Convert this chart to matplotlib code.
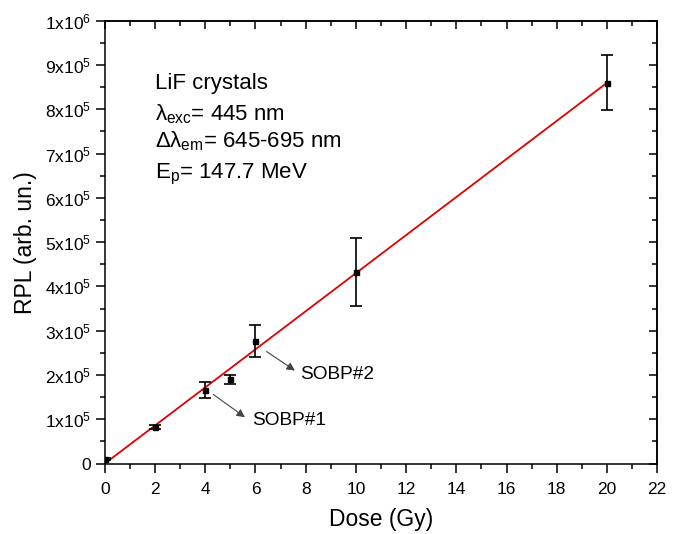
import matplotlib
matplotlib.use("Agg")
import matplotlib.pyplot as plt
from matplotlib.ticker import MultipleLocator, FixedLocator

plt.rcParams['font.family'] = ['Liberation Sans', 'DejaVu Sans']
plt.rcParams['mathtext.fontset'] = 'custom'
plt.rcParams['mathtext.rm'] = 'Liberation Sans'
plt.rcParams['mathtext.it'] = 'Liberation Sans'

# measured points
dose = [0, 2, 4, 5, 6, 10, 20]
rpl = [1.0e4, 8.2e4, 1.66e5, 1.90e5, 2.77e5, 4.32e5, 8.60e5]
rpl_err = [0.3e4, 0.5e4, 1.8e4, 1.0e4, 3.7e4, 7.7e4, 6.2e4]

# linear fit
fit_dose = [0, 20]
fit_rpl = [0, 8.6e5]

ytick_vals = [i * 1e5 for i in range(11)]
ytick_labels = ['0'] + [f'{i}x10$^{{5}}$' for i in range(1, 10)] + ['1x10$^{6}$']

fig = plt.figure(figsize=(6.81, 5.34), dpi=100)
ax = fig.add_axes([0.154, 0.132, 0.811, 0.829])

ax.plot(fit_dose, fit_rpl, color='#e00000', lw=1.3, zorder=2)
ax.errorbar(dose, rpl, yerr=rpl_err, fmt='s', color='black', ms=3.6,
            capsize=4, elinewidth=1.2, capthick=1.2, zorder=3)

ax.set_xlim(0, 22)
ax.set_ylim(0, 1e6)
ax.xaxis.set_major_locator(MultipleLocator(2))
ax.xaxis.set_minor_locator(MultipleLocator(1))
ax.yaxis.set_major_locator(FixedLocator(ytick_vals))
ax.yaxis.set_minor_locator(MultipleLocator(5e4))
ax.set_yticklabels(ytick_labels)

for s in ax.spines.values():
    s.set_linewidth(1.1)
ax.tick_params(which='both', direction='out', width=1.1, labelsize=12.5, top=False, right=False)
ax.tick_params(which='major', length=6.5)
ax.tick_params(which='minor', length=3.5)
ax.tick_params(axis='x', which='major', pad=7)

# mirrored axes with inward ticks
top = ax.secondary_xaxis('top')
top.xaxis.set_major_locator(MultipleLocator(2))
top.xaxis.set_minor_locator(MultipleLocator(1))
top.tick_params(which='both', direction='in', width=1.1, labeltop=False)
top.tick_params(which='major', length=6)
top.tick_params(which='minor', length=3.5)
right = ax.secondary_yaxis('right')
right.yaxis.set_major_locator(FixedLocator(ytick_vals))
right.yaxis.set_minor_locator(MultipleLocator(5e4))
right.tick_params(which='both', direction='in', width=1.1, labelright=False)
right.tick_params(which='major', length=6)
right.tick_params(which='minor', length=3.5)
for sec in (top, right):
    for s in sec.spines.values():
        s.set_linewidth(1.1)

ax.set_xlabel('Dose (Gy)', fontsize=16.5, labelpad=8)
ax.set_ylabel('RPL (arb. un.)', fontsize=16.5, labelpad=6)

info = ['LiF crystals',
        r'$\lambda_{\mathrm{exc}}$= 445 nm',
        r'$\Delta\lambda_{\mathrm{em}}$= 645-695 nm',
        r'E$_{\mathrm{p}}$= 147.7 MeV']
info_y = [8.46e5, 7.74e5, 7.13e5, 6.45e5]
for txt, yy in zip(info, info_y):
    ax.text(2.0, yy, txt, fontsize=16, va='baseline', ha='left')

ax.annotate('', xy=(7.57, 2.10e5), xytext=(6.44, 2.53e5),
            arrowprops=dict(arrowstyle='-|>', color='#444444', lw=0.8,
                            mutation_scale=12, shrinkA=0, shrinkB=0))
ax.text(7.77, 2.01e5, 'SOBP#2', fontsize=13.7, va='center', ha='left')
ax.annotate('', xy=(5.58, 1.045e5), xytext=(4.32, 1.56e5),
            arrowprops=dict(arrowstyle='-|>', color='#444444', lw=0.8,
                            mutation_scale=12, shrinkA=0, shrinkB=0))
ax.text(5.85, 0.97e5, 'SOBP#1', fontsize=13.7, va='center', ha='left')

fig.savefig('out.png', dpi=100)
